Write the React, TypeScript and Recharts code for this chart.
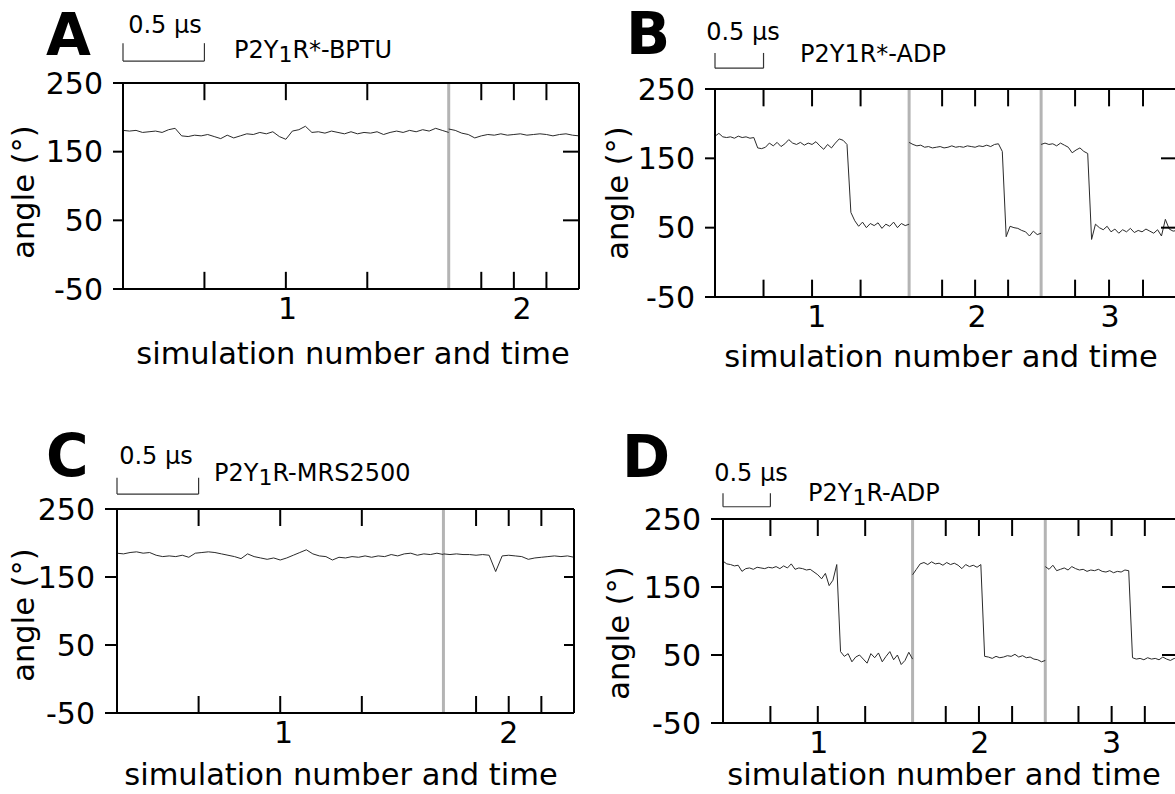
import React from "react";
import { LineChart, Line, XAxis, YAxis, ReferenceLine } from "recharts";

// sampling interval of the traces, in µs
const STEP = 0.04;

// A: P2Y1R*-BPTU
const bptuSimLengths = [2.0, 0.8];
const bptuSim1 = [
  181, 180, 181, 178, 179, 180, 178, 182, 184, 173, 172, 174, 173, 175, 172, 169, 174,
  170, 173, 176, 175, 178, 176, 179, 172, 168, 180, 182, 187, 178, 179, 177, 180, 178,
  176, 179, 176, 178, 177, 179, 175, 178, 180, 178, 181, 179, 182, 180, 184, 181, 178,
];
const bptuSim2 = [
  183, 181, 177, 175, 170, 173, 175, 174, 176, 174, 175, 176, 174, 175, 176, 175, 173,
  175, 176, 174, 173,
];
const bptuLabelPos = [1.01, 2.45];

// B: P2Y1R*-ADP
const adpStarSimLengths = [2.0, 1.36, 1.4];
const adpStarSim1 = [
  182, 186, 181, 180, 181, 179, 182, 180, 181, 179, 180, 165, 164, 166, 172, 168, 173,
  167, 171, 177, 172, 170, 173, 169, 172, 170, 174, 168, 163, 170, 165, 172, 178, 176,
  170, 72, 60, 52, 58, 50, 56, 53, 57, 49, 55, 52, 58, 50, 56, 53, 55,
];
const adpStarSim2 = [
  173, 170, 168, 169, 166, 167, 165, 166, 167, 165, 166, 168, 166, 167, 166, 168, 167,
  166, 168, 167, 169, 167, 170, 171, 160, 37, 52, 50, 49, 46, 44, 38, 45, 40, 42,
];
const adpStarSim3 = [
  170, 172, 170, 171, 168, 172, 169, 166, 158, 162, 165, 160, 157, 33, 55, 50, 47, 52,
  44, 48, 42, 47, 44, 49, 43, 46, 44, 48, 45, 42, 47, 38, 62, 48, 45, 46,
];
const adpStarLabelPos = [1.05, 2.7, 4.07];

// C: P2Y1R-MRS2500
const mrsSimLengths = [2.0, 0.8];
const mrsSim1 = [
  185, 184, 186, 187, 185, 186, 182, 180, 181, 180, 182, 179, 185, 186, 187, 186, 184,
  182, 180, 177, 184, 180, 178, 176, 178, 175, 178, 182, 186, 190, 184, 181, 180, 175,
  179, 178, 180, 179, 181, 179, 181, 180, 183, 181, 184, 185, 182, 184, 183, 185, 183,
];
const mrsSim2 = [
  184, 183, 184, 183, 183, 182, 183, 182, 158, 181, 182, 181, 180, 176, 178, 179, 180,
  181, 180, 181, 179,
];
const mrsLabelPos = [1.02, 2.4];

// D: P2Y1R-ADP
const adpSimLengths = [2.0, 1.4, 1.4];
const adpSim1 = [
  188, 184, 183, 181, 182, 173, 177, 178, 176, 179, 178, 177, 179, 178, 180, 177, 181,
  178, 184, 176, 178, 177, 175, 176, 172, 168, 162, 170, 152, 160, 183, 55, 48, 52, 40,
  47, 50, 44, 38, 52, 46, 53, 40, 48, 55, 43, 50, 36, 42, 54, 44,
];
const adpSim2 = [
  168, 176, 184, 186, 183, 187, 184, 185, 182, 186, 183, 185, 182, 177, 183, 180, 182,
  179, 183, 48, 47, 45, 48, 46, 47, 49, 48, 51, 47, 49, 46, 47, 44, 43, 40, 42,
];
const adpSim3 = [
  180, 176, 182, 174, 176, 178, 175, 180, 177, 175, 176, 173, 175, 174, 176, 173, 172,
  174, 171, 173, 172, 175, 174, 46, 44, 45, 43, 46, 44, 45, 43, 47, 44, 42, 45, 43,
];
const adpLabelPos = [1.01, 2.71, 4.1];

const simLabels = ["1", "2", "3"];
const yTicks = [-50, 50, 150, 250];
const yInnerTicks = [50, 150];
const Y_MIN = -50;
const Y_MAX = 250;
// length of the inward ticks on the top and bottom frame, in degrees
const INNER_TICK = 25;

const FONT = "DejaVu Sans";

type PanelProps = {
  sims: number[][];
  lengths: number[];
  labelPos: number[];
  left: number;
  top: number;
  width: number;
  height: number;
  margin: { top: number; right: number };
  yAxisWidth: number;
  xAxisHeight: number;
  leftTick: number;
  rightTick: number;
  bar: [number, number];
};

function Panel(p: PanelProps) {
  const starts = p.lengths.map((_, i) =>
    p.lengths.slice(0, i).reduce((a, b) => a + b, 0)
  );
  const total = p.lengths.reduce((a, b) => a + b, 0);
  const quarters = starts.flatMap((s, i) =>
    [1, 2, 3].map((k) => s + (p.lengths[i] * k) / 4)
  );
  const boundaries = starts.slice(1);
  const series = p.sims.map((vals, j) =>
    vals.map((v, i) => ({ t: starts[j] + i * STEP, angle: v }))
  );
  const [barY, barTop] = p.bar;
  const barStyle = { stroke: "#333", strokeWidth: 1.2 };
  const tickStyle = { stroke: "#000", strokeWidth: 2 };

  return (
    <div style={{ position: "absolute", left: p.left, top: p.top }}>
      <LineChart
        width={p.width}
        height={p.height}
        margin={{ top: p.margin.top, right: p.margin.right, bottom: 0, left: 0 }}
      >
        <XAxis
          type="number"
          dataKey="t"
          domain={[0, total]}
          allowDataOverflow
          ticks={p.labelPos}
          interval={0}
          tickFormatter={(v: number) => simLabels[p.labelPos.indexOf(v)] ?? ""}
          tickLine={false}
          tickSize={0}
          tickMargin={9}
          height={p.xAxisHeight}
          axisLine={{ stroke: "#000", strokeWidth: 2 }}
          tick={{ fontSize: 30, fill: "#000", fontFamily: FONT }}
        />
        <XAxis
          xAxisId="top"
          type="number"
          dataKey="t"
          domain={[0, total]}
          allowDataOverflow
          orientation="top"
          mirror
          tick={false}
          tickLine={false}
          axisLine={{ stroke: "#000", strokeWidth: 2 }}
        />
        <YAxis
          type="number"
          domain={[Y_MIN, Y_MAX]}
          allowDataOverflow
          ticks={yTicks}
          interval={0}
          width={p.yAxisWidth}
          tickSize={p.leftTick}
          tickMargin={10}
          axisLine={{ stroke: "#000", strokeWidth: 2 }}
          tickLine={{ stroke: "#000", strokeWidth: 2 }}
          tick={{ fontSize: 30, fill: "#000", fontFamily: FONT }}
        />
        <YAxis
          yAxisId="r"
          type="number"
          domain={[Y_MIN, Y_MAX]}
          allowDataOverflow
          orientation="right"
          mirror
          ticks={yInnerTicks}
          interval={0}
          tickFormatter={() => ""}
          tickSize={p.rightTick}
          axisLine={{ stroke: "#000", strokeWidth: 2 }}
          tickLine={{ stroke: "#000", strokeWidth: 2 }}
        />
        {quarters.map((q) => (
          <ReferenceLine
            key={`b${q}`}
            segment={[{ x: q, y: Y_MIN }, { x: q, y: Y_MIN + INNER_TICK }]}
            {...tickStyle}
          />
        ))}
        {quarters.map((q) => (
          <ReferenceLine
            key={`t${q}`}
            segment={[{ x: q, y: Y_MAX }, { x: q, y: Y_MAX - INNER_TICK }]}
            {...tickStyle}
          />
        ))}
        {boundaries.map((b) => (
          <ReferenceLine key={b} x={b} stroke="#b4b4b4" strokeWidth={3} />
        ))}
        <ReferenceLine
          segment={[{ x: 0, y: barY }, { x: 0.5, y: barY }]}
          ifOverflow="visible"
          {...barStyle}
        />
        <ReferenceLine
          segment={[{ x: 0, y: barY }, { x: 0, y: barTop }]}
          ifOverflow="visible"
          {...barStyle}
        />
        <ReferenceLine
          segment={[{ x: 0.5, y: barY }, { x: 0.5, y: barTop }]}
          ifOverflow="visible"
          {...barStyle}
        />
        {series.map((d, j) => (
          <Line
            key={j}
            data={d}
            dataKey="angle"
            type="linear"
            dot={false}
            stroke="#2a2a2a"
            strokeWidth={1}
            isAnimationActive={false}
          />
        ))}
      </LineChart>
    </div>
  );
}

function Title({ x, y, pre, post }: { x: number; y: number; pre: string; post: string }) {
  // "P2Y" + subscript 1 + rest
  return (
    <text x={x} y={y} fontSize={24} fontFamily={FONT} fill="#000">
      {pre}
      <tspan dy={4} fontSize={22}>1</tspan>
      <tspan dy={-4}>{post}</tspan>
    </text>
  );
}

function YTitle({ x, y }: { x: number; y: number }) {
  return (
    <text
      x={x}
      y={y}
      transform={`rotate(-90 ${x} ${y})`}
      textAnchor="middle"
      fontSize={30.5}
      fontFamily={FONT}
      fill="#000"
    >
      angle (°)
    </text>
  );
}

function XTitle({ x, y }: { x: number; y: number }) {
  return (
    <text x={x} y={y} textAnchor="middle" fontSize={30.5} fontFamily={FONT} fill="#000">
      simulation number and time
    </text>
  );
}

function Letter({ x, y, c }: { x: number; y: number; c: string }) {
  return (
    <text x={x} y={y} fontSize={58} fontWeight="bold" fontFamily={FONT} fill="#000">
      {c}
    </text>
  );
}

function ScaleText({ x, y }: { x: number; y: number }) {
  return (
    <text x={x} y={y} textAnchor="middle" fontSize={24} fontFamily={FONT} fill="#000">
      0.5 µs
    </text>
  );
}

export default function App() {
  return (
    <div
      style={{
        position: "absolute",
        left: 0,
        top: 0,
        width: 1175,
        height: 794,
        overflow: "hidden",
        background: "#fff",
      }}
    >
      <Panel
        sims={[bptuSim1, bptuSim2]}
        lengths={bptuSimLengths}
        labelPos={bptuLabelPos}
        left={0}
        top={0}
        width={600}
        height={380}
        margin={{ top: 83, right: 21 }}
        yAxisWidth={123}
        xAxisHeight={91}
        leftTick={10}
        rightTick={16}
        bar={[282, 308]}
      />
      <Panel
        sims={[adpStarSim1, adpStarSim2, adpStarSim3]}
        lengths={adpStarSimLengths}
        labelPos={adpStarLabelPos}
        left={590}
        top={0}
        width={600}
        height={380}
        margin={{ top: 89, right: 13 }}
        yAxisWidth={125}
        xAxisHeight={83}
        leftTick={10}
        rightTick={16}
        bar={[280, 302]}
      />
      <Panel
        sims={[mrsSim1, mrsSim2]}
        lengths={mrsSimLengths}
        labelPos={mrsLabelPos}
        left={0}
        top={420}
        width={600}
        height={374}
        margin={{ top: 89, right: 26 }}
        yAxisWidth={117}
        xAxisHeight={81}
        leftTick={12}
        rightTick={10}
        bar={[272, 296]}
      />
      <Panel
        sims={[adpSim1, adpSim2, adpSim3]}
        lengths={adpSimLengths}
        labelPos={adpLabelPos}
        left={590}
        top={420}
        width={600}
        height={374}
        margin={{ top: 99, right: 12 }}
        yAxisWidth={133}
        xAxisHeight={71}
        leftTick={12}
        rightTick={16}
        bar={[268, 288]}
      />
      <svg
        width={1175}
        height={794}
        style={{ position: "absolute", left: 0, top: 0, pointerEvents: "none" }}
      >
        <Letter x={46} y={55} c="A" />
        <Letter x={626} y={54} c="B" />
        <Letter x={46} y={476} c="C" />
        <Letter x={622} y={477} c="D" />

        <ScaleText x={165} y={33} />
        <ScaleText x={743} y={40} />
        <ScaleText x={156} y={464} />
        <ScaleText x={751} y={481} />

        <Title x={234} y={58} pre="P2Y" post="R*-BPTU" />
        <text x={800} y={62} fontSize={24} fontFamily={FONT} fill="#000">
          P2Y1R*-ADP
        </text>
        <Title x={214} y={481} pre="P2Y" post="R-MRS2500" />
        <Title x={808} y={501} pre="P2Y" post="R-ADP" />

        <YTitle x={34} y={192} />
        <YTitle x={628} y={193} />
        <YTitle x={34} y={615} />
        <YTitle x={629} y={633} />

        <XTitle x={353} y={364} />
        <XTitle x={941} y={367} />
        <XTitle x={341} y={785} />
        <XTitle x={944} y={785} />
      </svg>
    </div>
  );
}
